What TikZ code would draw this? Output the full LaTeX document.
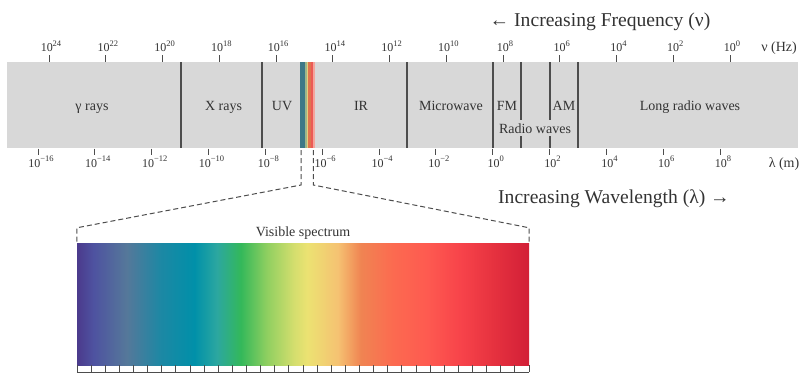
\documentclass[tikz,border=0pt]{standalone}
\usepackage{fontspec}
\setmainfont{Liberation Serif}
\usetikzlibrary{positioning}
\definecolor{BandGray}{HTML}{D8D8D8}
\definecolor{RuleGray}{HTML}{4D4D4D}
\definecolor{InkGray}{HTML}{333333}
\definecolor{vsA}{HTML}{4B3A8C}
\definecolor{vsB}{HTML}{4E52A0}
\definecolor{vsC}{HTML}{55789A}
\definecolor{vsD}{HTML}{1C88A4}
\definecolor{vsE}{HTML}{0090A9}
\definecolor{vsF}{HTML}{2CA7A0}
\definecolor{vsG}{HTML}{33B85A}
\definecolor{vsH}{HTML}{8FCF60}
\definecolor{vsI}{HTML}{D4DE6E}
\definecolor{vsJ}{HTML}{ECE272}
\definecolor{vsK}{HTML}{F5C272}
\definecolor{vsL}{HTML}{F08452}
\definecolor{vsM}{HTML}{FC6A50}
\definecolor{vsN}{HTML}{FE5A50}
\definecolor{vsO}{HTML}{F7434A}
\definecolor{vsP}{HTML}{E6323F}
\definecolor{vsQ}{HTML}{D21F37}
\definecolor{stTeal}{HTML}{3E7887}
\definecolor{stGreen}{HTML}{9DB58A}
\definecolor{stYellow}{HTML}{E3CF7E}
\definecolor{stOrange}{HTML}{E0734E}
\definecolor{stRed}{HTML}{EB5A55}
\definecolor{stPink}{HTML}{F4A49B}
\pgfdeclarehorizontalshading{visspec}{100bp}{color(0bp)=(vsA); color(25bp)=(vsA);
  color(26.8bp)=(vsB); color(30.5bp)=(vsC); color(34.3bp)=(vsD); color(38bp)=(vsE);
  color(40.5bp)=(vsF); color(43.1bp)=(vsG); color(46bp)=(vsH); color(49bp)=(vsI);
  color(50.5bp)=(vsJ); color(53.85bp)=(vsK); color(56.4bp)=(vsL); color(60bp)=(vsM);
  color(63.75bp)=(vsN); color(67.45bp)=(vsO); color(71bp)=(vsP); color(75bp)=(vsQ);
  color(100bp)=(vsQ)}
\newcommand{\tpow}[1]{10\raisebox{0.42em}{\fontsize{8.5}{9}\selectfont #1}}

\begin{document}
\begin{tikzpicture}[x=1pt,y=-1pt,node distance=2pt,>=stealth]
  \tikzstyle{band}=[fill=BandGray,minimum width=791pt,minimum height=86pt,inner sep=0pt]
  \tikzstyle{bandlbl}=[text=InkGray,anchor=base,inner sep=1pt,
    font=\fontsize{14}{16}\selectfont]
  \tikzstyle{ticklbl}=[text=InkGray,anchor=base,inner sep=1pt,
    font=\fontsize{12}{13}\selectfont]
  \tikzstyle{unitlbl}=[text=InkGray,anchor=base,inner sep=1pt,
    font=\fontsize{14}{15}\selectfont]
  \tikzstyle{bigcap}=[text=InkGray,anchor=base,inner sep=1pt,
    font=\fontsize{19.6}{22}\selectfont]
  \tikzstyle{divider}=[draw=RuleGray,line width=1.2pt]
  \tikzstyle{axtick}=[draw=RuleGray,line width=0.9pt]
  \tikzstyle{zoomline}=[draw=RuleGray,line width=1pt,dash pattern=on 5pt off 3pt]
  \tikzstyle{specbox}=[shading=visspec,minimum width=452pt,minimum height=122pt,
    inner sep=0pt]
  \useasboundingbox (0,0) rectangle (806,380);

  \node[band] (band) at (402.5,105) {};
  \fill[stTeal] (300,62) rectangle (305.2,148);
  \fill[stGreen] (305.2,62) rectangle (306.7,148);
  \fill[stYellow] (306.7,62) rectangle (308.4,148);
  \fill[stOrange] (308.4,62) rectangle (310.8,148);
  \fill[stRed] (310.8,62) rectangle (313,148);
  \fill[stPink] (313,62) rectangle (315,148);
  \foreach \x in {521,550}
    \draw[divider] (\x,62) -- (\x,148);
  \node[bandlbl,fill=BandGray,inner xsep=0.5pt,inner ysep=3pt] (radio) at (535,133) {Radio waves};
  \foreach \x in {181,262,407,493,578}
    \draw[divider] (\x,62) -- (\x,148);

  \node[bandlbl] (gamma) at (92,110) {γ rays};
  \node[bandlbl] (xray) at (223.5,110) {X rays};
  \node[bandlbl] (uv) at (282,110) {UV};
  \node[bandlbl] (ir) at (361,110) {IR};
  \node[bandlbl] (micro) at (451,110) {Microwave};
  \node[bandlbl] (fm) at (507,110) {FM};
  \node[bandlbl] (am) at (564,110) {AM};
  \node[bandlbl] (longw) at (690,110) {Long radio waves};

  \foreach \e [count=\i] in {24,22,...,0} {
    \draw[axtick] ({49+(24-\e)*28.375},55) -- ++(0,6.5);
    \node[ticklbl] (f\i) at ({51+(24-\e)*28.375},51.5) {\tpow{\e}};
  }
  \node[unitlbl] (hz) at (779,51.5) {ν (Hz)};
  \foreach \e [count=\i] in {-16,-14,...,8} {
    \draw[axtick] ({38+(\e+16)*28.42},148.5) -- ++(0,6.5);
    \node[ticklbl] (w\i) at ({41+(\e+16)*28.42},167)
      {\tpow{\ifnum\e<0 −\the\numexpr-\e\relax\else\e\fi}};
  }
  \node[unitlbl] (meter) at (784,167) {λ (m)};

  \node[bigcap] (freq) at (600,26) {← Increasing Frequency (ν)};
  \node[bigcap] (wave) at (614,203) {Increasing Wavelength (λ) →};

  \node[specbox] (spec) at (303,304) {};
  \node[bandlbl] (vislbl) at (303,236.5) {Visible spectrum};
  \draw[axtick] (spec.south west) ++(0,7) -- ++(452,0);
  \foreach \i in {0,...,32}
    \draw[axtick] ({77+\i*14.125},365) -- ++(0,7);

  \coordinate (visL) at (301,150);
  \coordinate (visR) at (313.3,150);
  \draw[zoomline] (visL) -- ++(0,35) -- ([yshift=15pt]spec.north west) -- (spec.north west);
  \draw[zoomline] (visR) -- ++(0,35) -- ([yshift=15pt]spec.north east) -- (spec.north east);
\end{tikzpicture}
\end{document}
